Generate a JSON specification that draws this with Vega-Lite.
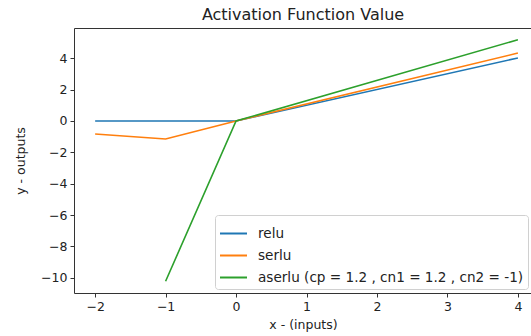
{
  "$schema": "https://vega.github.io/schema/vega-lite/v6.json",
  "autosize": {"type": "none"},
  "padding": {"left": 74, "top": 28, "right": 0, "bottom": 43},
  "width": 458,
  "height": 265,
  "background": "white",
  "title": {"text": "Activation Function Value", "fontSize": 16, "font": "DejaVu Sans", "fontWeight": "normal", "color": "#222", "offset": 5},
  "config": {
    "view": {"stroke": "#333", "strokeWidth": 1},
    "axis": {"grid": false, "domain": false, "tickColor": "#333", "tickSize": 4, "labelFont": "DejaVu Sans", "labelFontSize": 12.5, "labelColor": "#222", "titleFont": "DejaVu Sans", "titleFontSize": 12.5, "titleFontWeight": "normal", "titleColor": "#222", "labelPadding": 3}
  },
  "data": {"values": [
    {"x": -2, "y": 0, "f": "relu"},
    {"x": -1, "y": 0, "f": "relu"},
    {"x": 0, "y": 0, "f": "relu"},
    {"x": 4, "y": 4.02, "f": "relu"},
    {"x": -2, "y": -0.83, "f": "serlu"},
    {"x": -1, "y": -1.15, "f": "serlu"},
    {"x": 0, "y": 0, "f": "serlu"},
    {"x": 4, "y": 4.33, "f": "serlu"},
    {"x": -1, "y": -10.22, "f": "aserlu (cp = 1.2 , cn1 = 1.2 , cn2 = -1)"},
    {"x": 0, "y": 0, "f": "aserlu (cp = 1.2 , cn1 = 1.2 , cn2 = -1)"},
    {"x": 4, "y": 5.18, "f": "aserlu (cp = 1.2 , cn1 = 1.2 , cn2 = -1)"}
  ]},
  "mark": {"type": "line", "strokeWidth": 1.6, "clip": true},
  "encoding": {
    "x": {"field": "x", "type": "quantitative", "scale": {"domain": [-2.3, 4.2], "nice": false, "zero": false}, "axis": {"values": [-2, -1, 0, 1, 2, 3, 4], "title": "x - (inputs)", "titlePadding": 6}},
    "y": {"field": "y", "type": "quantitative", "scale": {"domain": [-10.97, 5.93], "nice": false, "zero": false}, "axis": {"values": [-10, -8, -6, -4, -2, 0, 2, 4], "title": "y - outputs", "titlePadding": 13}},
    "color": {"field": "f", "type": "nominal", "scale": {"domain": ["relu", "serlu", "aserlu (cp = 1.2 , cn1 = 1.2 , cn2 = -1)"], "range": ["#1f77b4", "#ff7f0e", "#2ca02c"]},
      "legend": {"title": null, "orient": "bottom-right", "offset": 4, "symbolType": "stroke", "symbolSize": 729, "symbolStrokeWidth": 2, "labelFont": "DejaVu Sans", "labelFontSize": 13.6, "labelColor": "#222", "labelLimit": 0, "strokeColor": "#d0d0d0", "fillColor": "rgba(255,255,255,0.85)", "cornerRadius": 3, "padding": 4, "rowPadding": -11, "labelOffset": 10}}
  }
}
